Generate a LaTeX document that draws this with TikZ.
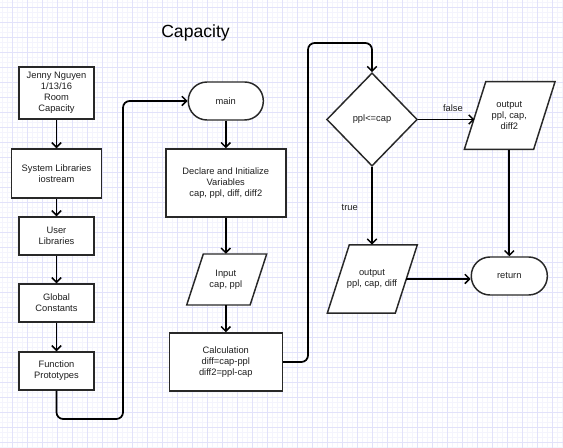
\documentclass[tikz,border=0pt]{standalone}
\usepackage{fontspec}
\setmainfont{Liberation Sans}
\usetikzlibrary{arrows.meta,shapes.geometric}
\definecolor{gridmajor}{RGB}{226,226,250}
\definecolor{gridminor}{RGB}{244,244,253}
\definecolor{boxline}{RGB}{40,40,40}
\definecolor{txt}{RGB}{30,30,30}
\tikzset{
  px/.style={x=0.75pt,y=-0.75pt},
  base/.style={draw=boxline,line width=1.1pt,fill=white,inner sep=0pt,align=center,
    font=\fontsize{7}{8.2}\selectfont,text=txt},
  procbox/.style={base,rectangle},
  termbox/.style={base,rectangle,rounded corners=14pt},
  ioshape/.style={draw=boxline,line width=1.1pt,fill=white},
  iotext/.style={rectangle,inner sep=0pt,align=center,font=\fontsize{7}{8.2}\selectfont,text=txt},
  decbox/.style={base,diamond},
  conn/.style={draw=black,line width=1.3pt,-{Straight Barb[length=3.5pt,width=7pt,line width=1.1pt]}},
  lbl/.style={font=\fontsize{7}{8.2}\selectfont,text=txt,inner sep=1pt}
}
% parallelogram: centre x, centre y, total width, slant, height
\newcommand{\paragram}[5]{%
  \filldraw[ioshape] ({#1-#3/2+#4},{#2-#5/2}) -- ({#1+#3/2},{#2-#5/2}) --
    ({#1+#3/2-#4},{#2+#5/2}) -- ({#1-#3/2},{#2+#5/2}) -- cycle;}
\begin{document}
\begin{tikzpicture}[px]
\useasboundingbox (0,0) rectangle (563,448);
\fill[white] (0,0) rectangle (563,448);
\foreach \v in {2.5,7.5,...,562.5}{\draw[gridminor,line width=0.75pt] (\v,0) -- (\v,448);}
\foreach \v in {2.5,7.5,...,447.5}{\draw[gridminor,line width=0.75pt] (0,\v) -- (563,\v);}
\foreach \v in {12.5,27.5,...,562.5}{\draw[gridmajor,line width=0.75pt] (\v,0) -- (\v,448);}
\foreach \v in {7.5,22.5,...,447.5}{\draw[gridmajor,line width=0.75pt] (0,\v) -- (563,\v);}

\node[font=\fontsize{13.2}{15}\selectfont,text=black] (title) at (195.5,33) {Capacity};

\node[procbox,minimum width=56.25pt,minimum height=39pt] (b1) at (56.5,93) {Jenny Nguyen\\1/13/16\\Room\\Capacity};
\node[procbox,minimum width=67.5pt,minimum height=36.75pt] (b2) at (56.5,173.5) {System Libraries\\iostream};
\node[procbox,minimum width=56.25pt,minimum height=28.5pt] (b3) at (56.5,236) {User\\Libraries};
\node[procbox,minimum width=56.25pt,minimum height=28.5pt] (b4) at (56.5,303) {Global\\Constants};
\node[procbox,minimum width=56.25pt,minimum height=28.5pt] (b5) at (56.5,371) {Function\\Prototypes};

\node[termbox,minimum width=56.25pt,minimum height=28.5pt] (main) at (225.8,101) {main};
\node[procbox,minimum width=90pt,minimum height=51pt] (decl) at (225.8,183) {Declare and Initialize\\Variables\\cap, ppl, diff, diff2};

\paragram{226.7}{279.5}{80}{16.6}{51}
\node[iotext,minimum width=47.55pt,minimum height=38.25pt] (inp) at (225.8,279.5) {Input\\cap, ppl};

\node[procbox,minimum width=84.75pt,minimum height=43.5pt] (calc) at (225.8,362) {Calculation\\diff=cap-ppl\\diff2=ppl-cap};

\node[decbox,minimum width=68pt,minimum height=70pt] (dia) at (372,119.5) {ppl<=cap};

\paragram{509.7}{115.5}{90.7}{21.4}{67.6}
\node[iotext,minimum width=52pt,minimum height=50.7pt] (out2) at (509.3,115.5) {output\\ppl, cap,\\diff2};

\paragram{372.3}{279}{90}{22}{68.3}
\node[iotext,minimum width=51pt,minimum height=51.2pt] (out1) at (372,279) {output\\ppl, cap, diff};

\node[termbox,minimum width=57pt,minimum height=28.5pt] (ret) at (509.3,276) {return};

\coordinate (c1) at (123,419);
\coordinate (c2) at (308,43);

\draw[conn] (b1) -- (b2);
\draw[conn] (b2) -- (b3);
\draw[conn] (b3) -- (b4);
\draw[conn] (b4) -- (b5);
\draw[conn,rounded corners=5pt] (b5.south) |- (c1) |- (main.west);
\draw[conn] (main) -- (decl);
\draw[conn] (decl) -- (inp);
\draw[conn] (inp) -- (calc);
\draw[conn,rounded corners=5pt] (calc.east) -| (c2) -| (dia.north);
\draw[conn] (dia.east) -- node[lbl,above=4pt,pos=0.62] (lf) {false} (dia.east -| out2.west);
\draw[conn] (dia.south) -- node[lbl,left=9pt,pos=0.52] (lt) {true} (out1.north);
\draw[conn] (out2.south) -- (ret.north);
\draw[conn] (out1.east) -- (out1.east -| ret.west);
\end{tikzpicture}
\end{document}
